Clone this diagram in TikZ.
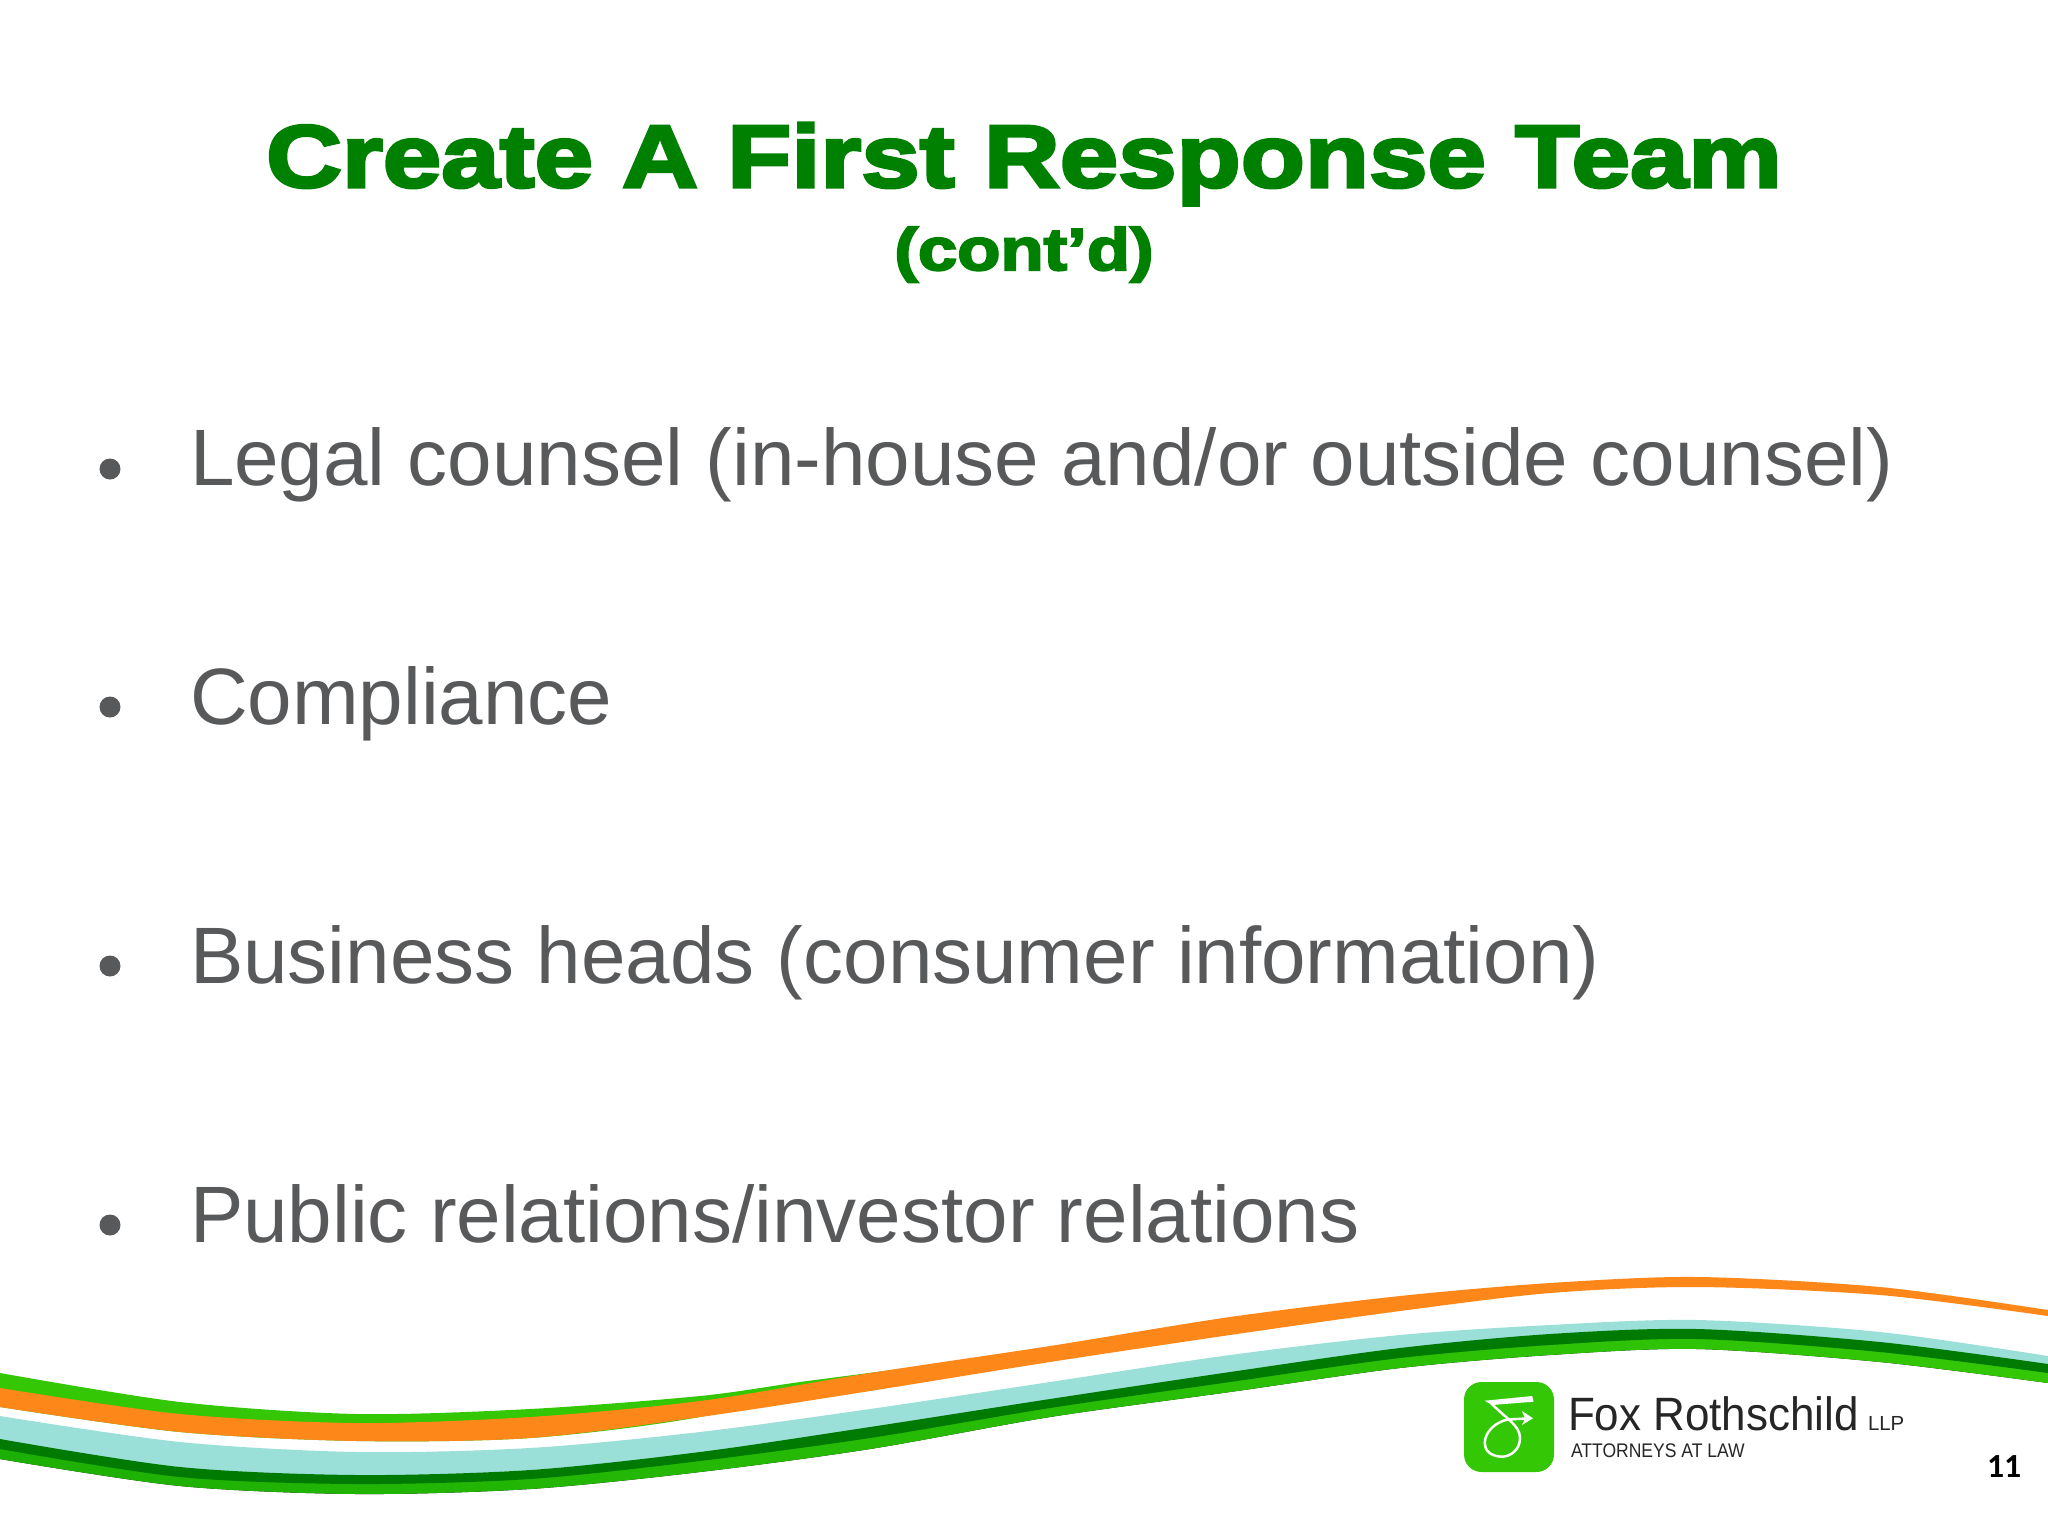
\documentclass[tikz,border=0pt]{standalone}
\usepackage{fontspec}
\setmainfont{Liberation Sans}
\newfontfamily\titlefont[FakeBold=3.6,FakeStretch=1.19]{Liberation Sans Bold}
\newfontfamily\pagefont[Ligatures=TeX]{Carlito}
\definecolor{titlegreen}{HTML}{008000}
\definecolor{bodygrey}{HTML}{58595B}
\definecolor{ribgreen}{HTML}{33C706}
\definecolor{ribgreenb}{HTML}{1DB004}
\definecolor{riborange}{HTML}{FD8719}
\definecolor{ribteal}{HTML}{9BDFD9}
\definecolor{ribdark}{HTML}{007A00}
\tikzset{
  txt/.style={inner sep=0pt,outer sep=0pt,anchor=base west},
  titletxt/.style={inner sep=0pt,outer sep=0pt,anchor=base,text=titlegreen},
  bodytxt/.style={txt,text=bodygrey,font=\fontsize{22.75pt}{26pt}\selectfont},
  bulletdot/.style={fill=bodygrey},
  logotxt/.style={txt,text=black!85},
}
\begin{document}
\begin{tikzpicture}[x=0.01cm,y=-0.01cm]
\useasboundingbox (0,0) rectangle (2048,1536);
\fill[white] (0,0) rectangle (2048,1536);
% ribbon
\fill[ribgreen] plot[smooth] coordinates {(0,1373) (180,1402) (357,1414) (530,1409) (700,1396) (800,1382) (900,1369)}
  -- plot[smooth] coordinates {(900,1372) (700,1417) (530,1438) (357,1441) (180,1432) (0,1407)} -- cycle;
\fill[riborange] plot[smooth] coordinates {(0,1388) (180,1414) (357,1423) (530,1417) (700,1401) (870,1373) (1050,1346) (1230,1317) (1400,1296) (1550,1283) (1697,1277) (1880,1287) (2048,1310)}
  -- plot[smooth] coordinates {(2048,1316) (1880,1295) (1697,1287) (1550,1293) (1400,1311) (1230,1335) (1050,1362) (870,1391) (700,1417) (530,1438) (357,1441) (180,1432) (0,1407)} -- cycle;
\fill[ribteal] plot[smooth] coordinates {(0,1416) (180,1442) (357,1452) (530,1448) (700,1432) (870,1409) (1050,1382) (1230,1355) (1400,1335) (1550,1325) (1697,1320) (1880,1332) (2048,1356)}
  -- plot[smooth] coordinates {(2048,1366) (1880,1343) (1697,1330) (1550,1335) (1400,1349) (1230,1374) (1050,1402) (870,1430) (700,1453) (530,1470) (357,1476) (180,1468) (0,1440)} -- cycle;
\fill[left color=ribgreenb,right color=ribgreen] plot[smooth] coordinates {(0,1445) (180,1472) (357,1480) (530,1474) (700,1456) (870,1432) (1050,1403) (1230,1376) (1400,1352) (1550,1340) (1697,1334) (1880,1347) (2048,1368)}
  -- plot[smooth] coordinates {(2048,1383) (1880,1362) (1697,1349) (1550,1355) (1400,1368) (1230,1392) (1050,1417) (870,1449) (700,1472) (530,1489) (357,1494) (180,1486) (0,1459)} -- cycle;
\fill[ribdark] plot[smooth] coordinates {(0,1439) (180,1467) (357,1475) (530,1470) (700,1452) (870,1427) (1050,1399) (1230,1372) (1400,1348) (1550,1334) (1697,1329) (1880,1342) (2048,1364)}
  -- plot[smooth] coordinates {(2048,1373) (1880,1352) (1697,1339) (1550,1345) (1400,1358) (1230,1382) (1050,1408) (870,1438) (700,1461) (530,1479) (357,1484) (180,1477) (0,1449)} -- cycle;
% title
\node[titletxt,font=\titlefont\fontsize{25.1pt}{29pt}\selectfont] (title) at (1024,187) {Create A First Response Team};
\node[titletxt,font=\titlefont\fontsize{16.9pt}{20pt}\selectfont] (cont) at (1024,270) {(cont’d)};
% bullets
\foreach \nm/\y in {a/469,b/707,c/966,d/1225} \fill[bulletdot] (110,\y) circle (10.5);
\node[bodytxt] (l1) at (190,485) {Legal counsel (in-house and/or outside counsel)};
\node[bodytxt] (l2) at (190,724) {Compliance};
\node[bodytxt] (l3) at (190,983) {Business heads (consumer information)};
\node[bodytxt] (l4) at (190,1242) {Public relations/investor relations};
% logo
\fill[ribgreen,rounded corners=5pt] (1464,1382) rectangle (1554,1472);
\fill[white] (1484.7,1400.7) -- (1532.2,1396) -- (1533.5,1401.7) -- (1492,1405) -- cycle;
\draw[white,line width=0.7pt] (1491,1403) .. controls (1505,1418) and (1520,1425) .. (1520,1438)
  .. controls (1520,1450) and (1510,1457) .. (1501,1456.7)
  .. controls (1490,1456) and (1484.7,1450) .. (1484.7,1443)
  .. controls (1485,1432) and (1495,1422) .. (1508,1419.5) -- (1526,1418.5);
\fill[white] (1533,1418.3) -- (1522,1411) -- (1525,1418.5) -- (1522,1425) -- cycle;
\node[logotxt,xscale=0.94,font=\fontsize{13.3pt}{16pt}\selectfont] (fox) at (1568,1430) {Fox Rothschild};
\node[logotxt,font=\fontsize{5.8pt}{7pt}\selectfont] (llp) at (1868,1430) {LLP};
\node[logotxt,xscale=0.89,font=\fontsize{5.6pt}{7pt}\selectfont] (att) at (1571,1457) {ATTORNEYS AT LAW};
\node[txt,text=black,font=\pagefont\bfseries\fontsize{9.6pt}{11pt}\selectfont] (page) at (1987,1477) {11};
\end{tikzpicture}
\end{document}
